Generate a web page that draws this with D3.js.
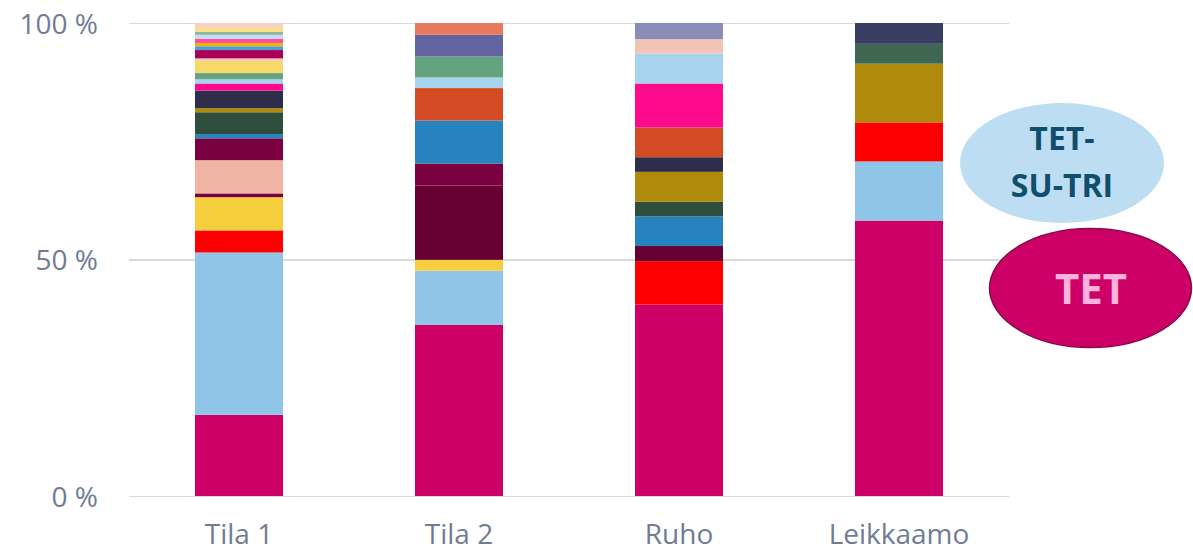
<!DOCTYPE html>
<meta charset="utf-8">
<style>
  body { margin: 0; background: #fff; font-family: "Open Sans", sans-serif; }
  .grid line { stroke: #d9d9e0; stroke-width: 1.5px; shape-rendering: crispEdges; }
  .grid .domain, .x.axis .domain { display: none; }
  .axis text { fill: #717c94; font-size: 28px; font-family: "Open Sans", sans-serif; }
  .bubble-text { font-family: "Open Sans", sans-serif; font-weight: 700; text-anchor: middle; }
</style>
<body>
<svg id="chart" width="1193" height="551"></svg>
<script src="https://d3js.org/d3.v7.min.js"></script>
<script>
// categories on the x axis
const categories = ["Tila 1", "Tila 2", "Ruho", "Leikkaamo"];
const yTicks = [0, 50, 100];

// segment keys and shares (%), bottom to top, per bar
const tila1Keys = ["TET", "SUTRI", "red", "yellow", "maroon", "salmon", "maroon", "blue", "darkgreen", "olive",
  "navy", "hotpink", "skyblue", "green", "paleyellow", "blush", "berry", "midblue", "gold", "pink",
  "iceblue", "sage", "cream", "peach"];
const tila1Values = [17.1, 34.2, 4.65, 7.0, 0.8, 7.0, 4.6, 0.9, 4.6, 0.85,
  3.7, 1.5, 0.9, 1.3, 2.6, 0.5, 1.75, 0.8, 0.7, 0.9,
  0.8, 0.6, 0.85, 1.05];

const tila2Keys = ["TET", "SUTRI", "yellow", "wine", "maroon", "blue", "rust", "skyblue", "green", "slate", "coral"];
const tila2Values = [36.2, 11.4, 2.3, 15.7, 4.65, 9.1, 6.85, 2.25, 4.4, 4.6, 2.5];

const ruhoKeys = ["TET", "red", "wine", "blue", "darkgreen", "olive", "navy", "rust", "hotpink", "skyblue", "blush", "lavender"];
const ruhoValues = [40.5, 9.2, 3.2, 6.3, 3.1, 6.3, 3.1, 6.3, 9.3, 6.3, 3.1, 3.4];

const leikkaamoKeys = ["TET", "SUTRI", "red", "olive", "forest", "indigo"];
const leikkaamoValues = [58.2, 12.5, 8.25, 12.4, 4.2, 4.4];

// colours for the segment keys
const palette = {
  TET: "#cc0066", SUTRI: "#8fc6e8", red: "#ff0000", yellow: "#f6cf3f", wine: "#660033",
  maroon: "#7a0040", blue: "#2783bd", darkgreen: "#2f4d3d", olive: "#b08a0a", navy: "#2e2e4a",
  hotpink: "#ff0a8c", skyblue: "#a6d4ee", green: "#64a37f", paleyellow: "#f7d96a", blush: "#f2c4b8",
  salmon: "#f0b5a4", berry: "#a8005a", midblue: "#4a9fd8", gold: "#f2b400", pink: "#ff4ba3",
  iceblue: "#bee0f0", sage: "#8fb5a0", cream: "#fbe08a", peach: "#f8d3c5", rust: "#d24b22",
  slate: "#6265a0", coral: "#e8795e", lavender: "#8a8cb8", forest: "#3e6650", indigo: "#3a3d62"
};

const bars = [
  {name: categories[0], keys: tila1Keys, values: tila1Values},
  {name: categories[1], keys: tila2Keys, values: tila2Values},
  {name: categories[2], keys: ruhoKeys, values: ruhoValues},
  {name: categories[3], keys: leikkaamoKeys, values: leikkaamoValues}
];

const svg = d3.select("#chart");
const margin = {left: 129, right: 184, top: 23, bottom: 55};
const width = 1193 - margin.left - margin.right;
const height = 551 - margin.top - margin.bottom;

const g = svg.append("g").attr("transform", "translate(" + margin.left + "," + margin.top + ")");

const x = d3.scaleBand().domain(categories).range([0, width]).paddingInner(0.6).paddingOuter(0.3);
const y = d3.scaleLinear().domain([0, 100]).range([height, 0]);

// gridlines + y labels
g.append("g")
  .attr("class", "grid axis")
  .call(d3.axisLeft(y).tickValues(yTicks).tickSize(-width).tickPadding(31).tickFormat(d => d + " %"))
  .selectAll("text").attr("dy", "0.36em");

// stacked segments, each bar normalised to 100 %
bars.forEach(function(b) {
  const total = d3.sum(b.values);
  const tops = d3.cumsum(b.values);
  const segs = b.values.map((v, i) => ({
    key: b.keys[i],
    y0: (tops[i] - v) / total * 100,
    y1: tops[i] / total * 100
  }));
  g.append("g").selectAll("rect")
    .data(segs)
    .join("rect")
    .attr("x", x(b.name))
    .attr("width", x.bandwidth())
    .attr("y", d => y(d.y1))
    .attr("height", d => y(d.y0) - y(d.y1))
    .attr("fill", d => palette[d.key]);
});

// x labels
g.append("g")
  .attr("class", "x axis")
  .attr("transform", "translate(0," + height + ")")
  .call(d3.axisBottom(x).tickSize(0).tickPadding(28));

// callout bubbles
svg.append("ellipse")
  .attr("cx", 1062).attr("cy", 163).attr("rx", 102).attr("ry", 60)
  .attr("fill", "#bddef2");
svg.append("text").attr("class", "bubble-text")
  .attr("x", 1062).attr("y", 150).attr("font-size", 32).attr("fill", "#0f4e6c")
  .text("TET-");
svg.append("text").attr("class", "bubble-text")
  .attr("x", 1062).attr("y", 197).attr("font-size", 32).attr("fill", "#0f4e6c")
  .text("SU-TRI");

svg.append("ellipse")
  .attr("cx", 1090.5).attr("cy", 288).attr("rx", 101).attr("ry", 59.5)
  .attr("fill", "#cc0066").attr("stroke", "#8a0a48").attr("stroke-width", 1.5);
svg.append("text").attr("class", "bubble-text")
  .attr("x", 1091).attr("y", 304).attr("font-size", 42).attr("fill", "#ffb3dc")
  .text("TET");
</script>
</body>
